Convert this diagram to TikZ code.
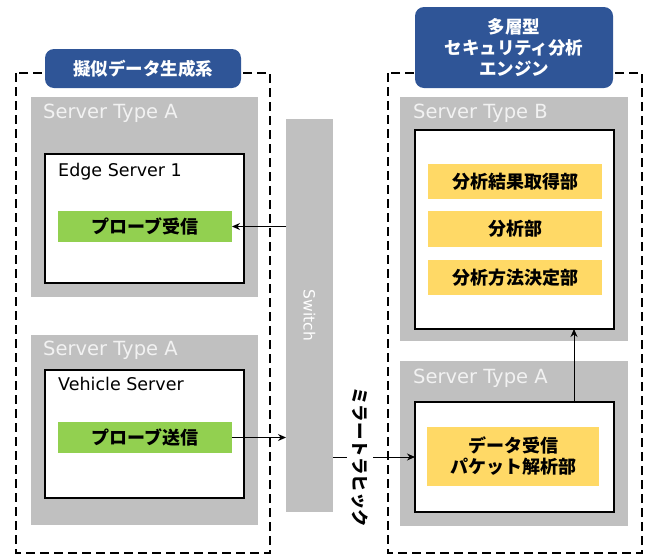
\documentclass[tikz,border=0pt]{standalone}
\usepackage{fontspec}
\setmainfont{Noto Sans CJK JP}
\newfontfamily\latinsf{DejaVu Sans}
\usetikzlibrary{positioning,arrows.meta,calc}
\definecolor{hdrblue}{HTML}{2F5597}
\definecolor{srvgray}{HTML}{C0C0C0}
\definecolor{probegreen}{HTML}{92D050}
\definecolor{funcyellow}{HTML}{FFD966}

\begin{document}
\begin{tikzpicture}[
  x=1pt,y=-1pt,
  >={Stealth[length=8pt,width=7pt]},
  graybox/.style={fill=srvgray,inner sep=0pt,outer sep=0pt},
  whitebox/.style={draw=black,line width=1.4pt,fill=white,inner sep=0pt,outer sep=0pt},
  func/.style={inner sep=0pt,outer sep=0pt,font=\fontsize{18}{21}\selectfont\bfseries,align=center},
  banner/.style={fill=hdrblue,rounded corners=9pt,text=white,inner sep=0pt,
    font=\fontsize{17.5}{21}\selectfont\bfseries,align=center},
  stype/.style={anchor=west,text=white!95!black,inner sep=0pt,font=\latinsf\fontsize{19.5}{22}\selectfont},
  sname/.style={anchor=west,inner sep=0pt,font=\latinsf\fontsize{17.5}{20}\selectfont},
  zone/.style={draw=black,line width=2.3pt,dash pattern=on 9pt off 5pt}
]
\useasboundingbox (0,0) rectangle (648,555);

% --- dashed zones ---
\draw[zone] (16,73) rectangle (270,553);
\draw[zone] (388,73) rectangle (642,553);

% --- banners ---
\node[banner,minimum width=196pt,minimum height=39pt] (genlbl) at (143,68.5) {擬似データ生成系};
\node[banner,minimum width=198pt,minimum height=81pt] (englbl) at (514,47.5)
  {多層型\\セキュリティ分析\\エンジン};

% --- left: generator servers ---
\node[graybox,minimum width=227pt,minimum height=200pt] (srvA1) at (144.5,197) {};
\node[stype] at ([xshift=12pt,yshift=-16pt]srvA1.north west) {Server Type A};
\node[whitebox,minimum width=199pt,minimum height=129pt] (edge) at (144.5,218.5) {};
\node[sname] at ([xshift=13pt,yshift=-18pt]edge.north west) {Edge Server 1};
\node[func,fill=probegreen,minimum width=174pt,minimum height=31pt] (rcv) at (145,226.5) {プローブ受信};

\node[graybox,minimum width=227pt,minimum height=190pt] (srvA2) at (144.5,430) {};
\node[stype] at ([xshift=12pt,yshift=-15pt]srvA2.north west) {Server Type A};
\node[whitebox,minimum width=199pt,minimum height=128pt] (veh) at (144.5,434) {};
\node[sname] at ([xshift=13pt,yshift=-14pt]veh.north west) {Vehicle Server};
\node[func,fill=probegreen,minimum width=174pt,minimum height=31pt] (snd) at (145,437.5) {プローブ送信};

% --- middle: switch ---
\node[graybox,minimum width=47pt,minimum height=393pt] (sw) at (309.5,315.5) {};
\node[rotate=-90,text=white,font=\latinsf\fontsize{15.5}{18}\selectfont] at (sw) {Switch};

% --- right: analysis engine ---
\node[graybox,minimum width=228pt,minimum height=244pt] (srvB) at (514,219) {};
\node[stype] at ([xshift=13pt,yshift=-16pt]srvB.north west) {Server Type B};
\node[whitebox,minimum width=199pt,minimum height=199pt] (anl) at (514.5,229.5) {};
\node[func,fill=funcyellow,minimum width=174pt,minimum height=35pt] (res) at (515,181.5) {分析結果取得部};
\node[func,fill=funcyellow,minimum width=174pt,minimum height=36pt] (ana) at (515,229) {分析部};
\node[func,fill=funcyellow,minimum width=174pt,minimum height=35pt] (mth) at (515,277.5) {分析方法決定部};

\node[graybox,minimum width=228pt,minimum height=165pt] (srvA3) at (514,443.5) {};
\node[stype] at ([xshift=13pt,yshift=-17pt]srvA3.north west) {Server Type A};
\node[whitebox,minimum width=199pt,minimum height=110pt] (pkt) at (514.5,457) {};
\node[func,fill=funcyellow,minimum width=172pt,minimum height=59pt] (dec) at (513,456.5)
  {データ受信\\パケット解析部};

% --- connectors ---
\draw[->,line width=1pt] (rcv.east -| sw.west) -- (rcv.east);
\draw[->,line width=1pt] (snd.east) -- (snd.east -| sw.west);
\draw[->,line width=1pt] (pkt.west -| sw.east) --
  node[pos=0.33,rotate=-90,fill=white,inner sep=5pt,font=\fontsize{17.5}{18}\selectfont\bfseries]{ミラートラヒック} (pkt.west);
\draw[->,line width=1pt] ([xshift=-40pt]pkt.north east) -- ([xshift=-40pt]anl.south east);
\end{tikzpicture}
\end{document}
